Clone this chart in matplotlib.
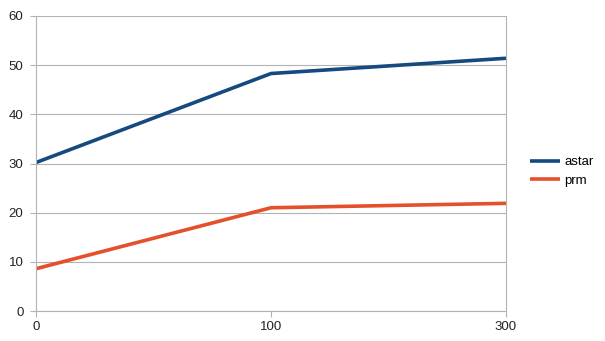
import matplotlib.pyplot as plt

plt.rcParams['font.family'] = ['Liberation Sans', 'DejaVu Sans']

# Data
categories = ['0', '100', '300']
astar = [30.2, 48.3, 51.4]
prm = [8.6, 21.0, 21.9]

fig = plt.figure(figsize=(6.05, 3.41), dpi=100)
ax = fig.add_axes([36 / 605, 30 / 341, 470 / 605, 295 / 341])

x = list(range(len(categories)))
ax.plot(x, astar, color='#154a80', linewidth=2.6, label='astar', solid_capstyle='butt')
ax.plot(x, prm, color='#e4502a', linewidth=2.6, label='prm', solid_capstyle='butt')

ax.set_xlim(0, len(categories) - 1)
ax.set_ylim(0, 60)
ax.set_yticks(range(0, 61, 10))
ax.set_xticks(x)
ax.set_xticklabels(categories)

ax.grid(axis='y', color='#b3b3b3', linewidth=0.8)
ax.set_axisbelow(True)
for side in ['left', 'bottom', 'right']:
    ax.spines[side].set_color('#b3b3b3')
    ax.spines[side].set_linewidth(0.8)
ax.spines['top'].set_visible(False)

ax.tick_params(axis='both', colors='#b3b3b3', labelcolor='#222222',
               labelsize=9.5, length=4, width=0.8)
ax.tick_params(axis='x', pad=3)
ax.tick_params(axis='y', pad=5)

ax.legend(loc='center left', bbox_to_anchor=(1.026, 0.473), frameon=False,
          fontsize=9.5, handlelength=2.3, handletextpad=0.3, labelspacing=0.45)

fig.savefig('out.png', dpi=100)
